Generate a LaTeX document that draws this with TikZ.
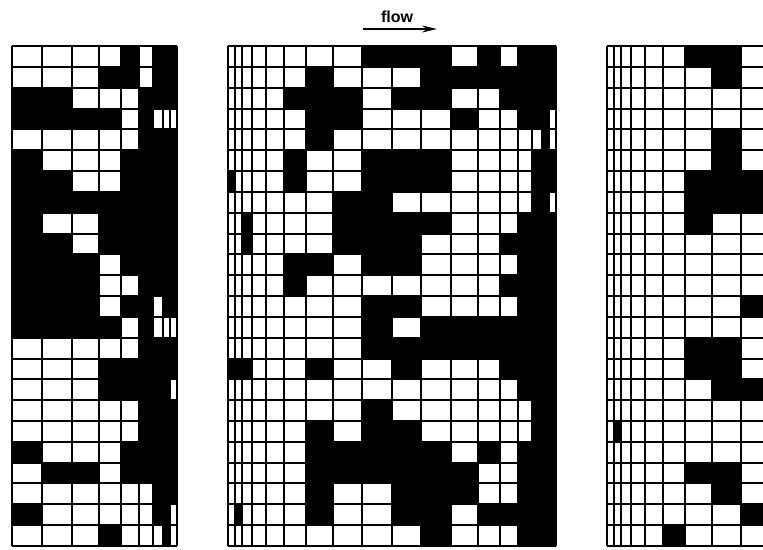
\documentclass[tikz,border=0pt]{standalone}
\usepackage{fontspec}
\setsansfont{Liberation Sans}
\usetikzlibrary{arrows.meta}

\def\rowh{20.833}
\tikzset{gridline/.style={line width=2pt}}

% #1 column edges, #2 left x, #3 right x, #4 rows (1 = black cell)
\newcommand{\drawpanel}[4]{%
  \foreach \rowdata [count=\rowno] in {#4} {
    \foreach \v [count=\colno] in \rowdata {
      \ifnum\v=1
        \pgfmathsetmacro\xa{{#1}[\colno-1]}
        \pgfmathsetmacro\xb{{#1}[\colno]}
        \fill (\xa,{46+(\rowno-1)*\rowh}) rectangle (\xb,{46+\rowno*\rowh});
      \fi
    }
  }
  \foreach \x in {#1} \draw[gridline] (\x,46) -- (\x,546);
  \foreach \k in {0,...,24} \draw[gridline] (#2,{46+\k*\rowh}) -- (#3,{46+\k*\rowh});
}

\begin{document}
\begin{tikzpicture}[x=1pt,y=-1pt]
\useasboundingbox (0,0) rectangle (763,549);
\fill[white] (0,0) rectangle (763,549);
\clip (0,0) rectangle (763,549);

% flow direction
\node[anchor=base,inner sep=0pt] (flow) at (397,22) {\sffamily\bfseries\fontsize{16}{18}\selectfont flow};
\coordinate (flowstart) at (363,29);
\coordinate (flowend) at (437,29);
\draw[line width=1.3pt,-{Stealth[length=15pt,width=7pt]}] (flowstart) -- (flowend);

% left panel
\drawpanel{12,41.75,71.5,98.5,120.5,138.5,152.5,163,170,176.5}{12}{176.5}{%
{0,0,0,0,1,0,1,1,1},{0,0,0,1,1,0,1,1,1},{1,1,0,0,0,1,1,1,1},{1,1,1,1,0,1,0,0,0},%
{0,0,0,0,0,1,1,1,1},{1,0,0,0,1,1,1,1,1},{1,1,0,0,1,1,1,1,1},{1,1,1,1,1,1,1,1,1},%
{1,0,0,1,1,1,1,1,1},{1,1,0,1,1,1,1,1,1},{1,1,1,0,1,1,1,1,1},{1,1,1,0,0,1,1,1,1},%
{1,1,1,0,1,1,0,1,1},{1,1,1,1,0,1,0,0,0},{0,0,0,0,0,1,1,1,1},{0,0,0,1,1,1,1,1,1},%
{0,0,0,1,1,1,1,1,0},{0,0,0,0,0,1,1,1,1},{0,0,0,0,0,1,1,1,1},{1,0,0,0,1,1,1,1,1},%
{0,1,1,0,1,1,1,1,1},{0,0,0,0,0,0,1,1,1},{1,0,0,0,0,0,1,1,0},{0,0,0,1,0,0,0,1,0}}

% middle panel
\drawpanel{228,234.5,241.5,252,266,284,306,333,362.4,391.8,421.2,450.6,477.6,499.6,517.6,531.6,542.1,549.1,555.6}{228}{555.6}{%
{0,0,0,0,0,0,0,0,1,1,1,0,1,0,1,1,1,1},{0,0,0,0,0,0,1,0,0,0,1,1,1,1,1,1,1,1},%
{0,0,0,0,0,1,1,1,0,1,1,0,0,1,1,1,1,1},{0,0,0,0,0,0,1,1,0,0,0,1,0,0,1,1,1,0},%
{0,0,0,0,0,0,1,0,0,0,0,0,0,0,0,0,1,0},{0,0,0,0,0,1,0,0,1,1,1,0,0,0,0,1,1,1},%
{1,0,0,0,0,1,0,0,1,1,1,0,0,0,0,1,1,1},{0,0,0,0,0,0,0,1,1,0,0,0,0,0,0,1,1,0},%
{0,0,1,0,0,0,0,1,1,1,1,0,0,0,1,1,1,1},{0,0,1,0,0,0,0,1,1,1,0,0,0,1,1,1,1,1},%
{0,0,0,0,0,1,1,0,1,1,0,0,0,0,1,1,1,1},{0,0,0,0,0,1,0,0,0,0,0,0,0,1,1,1,1,1},%
{0,0,0,0,0,0,0,0,1,1,0,0,0,0,1,1,1,1},{0,0,0,0,0,0,0,0,1,0,1,1,1,1,1,1,1,1},%
{0,0,0,0,0,0,0,0,1,1,1,1,1,1,1,1,1,1},{1,1,1,0,0,0,1,0,0,1,0,0,0,1,1,1,1,1},%
{0,0,0,0,0,0,0,0,0,0,0,0,0,0,1,1,1,1},{0,0,0,0,0,0,0,0,1,0,0,0,0,0,0,1,1,1},%
{0,0,0,0,0,0,1,0,1,1,0,0,0,0,0,1,1,1},{0,0,0,0,0,0,1,1,1,1,1,0,1,0,1,1,1,1},%
{0,0,0,0,0,0,1,1,1,1,1,1,0,0,1,1,1,1},{0,0,0,0,0,0,1,0,0,1,1,1,0,0,1,1,1,1},%
{0,1,0,0,0,0,1,0,0,1,1,0,1,1,1,1,1,1},{0,0,0,0,0,0,0,0,0,0,1,0,0,0,1,1,1,1}}

% right panel
\drawpanel{607,613.5,620.5,631,645,663,685,712,741.4,770.8}{607}{770.8}{%
{0,0,0,0,0,0,1,1,0},{0,0,0,0,0,0,0,1,0},{0,0,0,0,0,0,0,0,0},{0,0,0,0,0,0,0,0,0},%
{0,0,0,0,0,0,0,1,0},{0,0,0,0,0,0,0,1,0},{0,0,0,0,0,0,1,1,1},{0,0,0,0,0,0,1,1,1},%
{0,0,0,0,0,0,1,0,0},{0,0,0,0,0,0,0,0,0},{0,0,0,0,0,0,0,0,0},{0,0,0,0,0,0,0,0,0},%
{0,0,0,0,0,0,0,0,1},{0,0,0,0,0,0,0,0,0},{0,0,0,0,0,0,1,1,0},{0,0,0,0,0,0,1,1,0},%
{0,0,0,0,0,0,0,1,1},{0,0,0,0,0,0,0,0,0},{0,1,0,0,0,0,0,0,0},{0,0,0,0,0,0,0,0,0},%
{0,0,0,0,0,0,1,1,0},{0,0,0,0,0,0,0,1,0},{0,0,0,0,0,0,0,0,1},{0,0,0,0,0,1,0,0,0}}
\end{tikzpicture}
\end{document}
